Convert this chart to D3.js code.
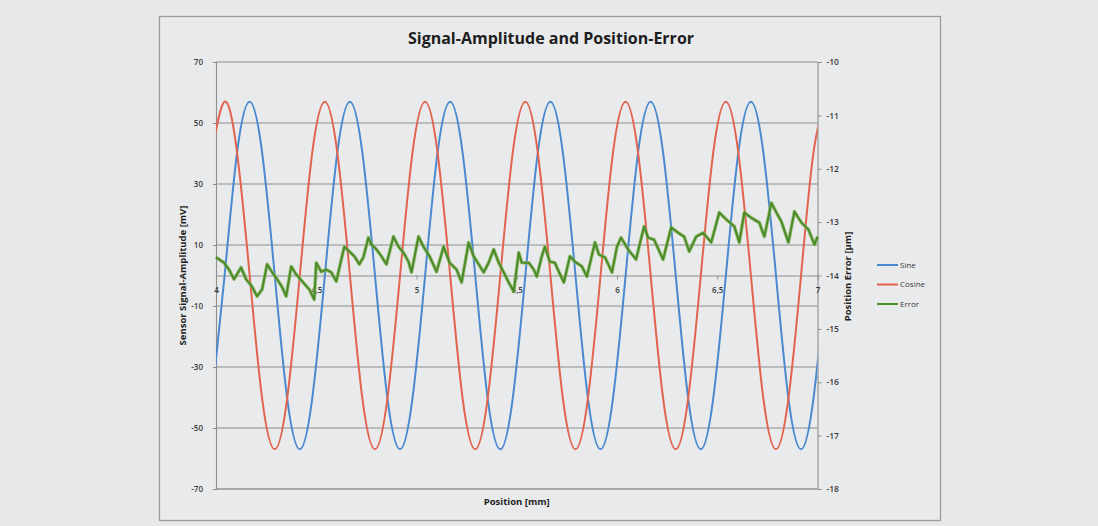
<!DOCTYPE html>
<html>
<head>
<meta charset="utf-8">
<script src="https://cdn.jsdelivr.net/npm/d3@7"></script>
<style>
  body { margin: 0; background: #e7e8ea; }
  text { font-family: "Open Sans", "Liberation Sans", sans-serif; }
</style>
</head>
<body>
<div id="chart"></div>
<script>
//Data
// sampled every 1/8 of a signal period (position in mm)
var sigPos = [3.980, 4.043, 4.105, 4.168, 4.230, 4.293, 4.355, 4.418, 4.480,
    4.543, 4.605, 4.668, 4.730, 4.793, 4.855, 4.918, 4.980,
    5.043, 5.105, 5.168, 5.230, 5.293, 5.355, 5.418, 5.480,
    5.543, 5.605, 5.668, 5.730, 5.793, 5.855, 5.918, 5.980,
    6.043, 6.105, 6.168, 6.230, 6.293, 6.355, 6.418, 6.480,
    6.543, 6.605, 6.668, 6.730, 6.793, 6.855, 6.918, 6.980, 7.043];

var sineVals = [-40.3,
    0, 40.3, 57, 40.3, 0, -40.3, -57, -40.3,
    0, 40.3, 57, 40.3, 0, -40.3, -57, -40.3,
    0, 40.3, 57, 40.3, 0, -40.3, -57, -40.3,
    0, 40.3, 57, 40.3, 0, -40.3, -57, -40.3,
    0, 40.3, 57, 40.3, 0, -40.3, -57, -40.3,
    0, 40.3, 57, 40.3, 0, -40.3, -57, -40.3,
    0];

var cosineVals = [40.3,
    57, 40.3, 0, -40.3, -57, -40.3, 0, 40.3,
    57, 40.3, 0, -40.3, -57, -40.3, 0, 40.3,
    57, 40.3, 0, -40.3, -57, -40.3, 0, 40.3,
    57, 40.3, 0, -40.3, -57, -40.3, 0, 40.3,
    57, 40.3, 0, -40.3, -57, -40.3, 0, 40.3,
    57, 40.3, 0, -40.3, -57, -40.3, 0, 40.3,
    57];

var errPos = [4.000, 4.040, 4.065, 4.090, 4.125, 4.150, 4.180, 4.205, 4.230, 4.255,
    4.280, 4.305, 4.330, 4.350, 4.375, 4.400, 4.430, 4.465, 4.490, 4.500,
    4.525, 4.550, 4.575, 4.600, 4.625, 4.640, 4.665, 4.690, 4.715, 4.735,
    4.760, 4.775, 4.800, 4.825, 4.850, 4.885, 4.910, 4.935, 4.960, 4.975,
    5.000, 5.010, 5.035, 5.065, 5.100, 5.135, 5.165, 5.200, 5.225, 5.260,
    5.285, 5.310, 5.335, 5.360, 5.385, 5.410, 5.435, 5.460, 5.485, 5.510,
    5.525, 5.560, 5.585, 5.600, 5.625, 5.640, 5.665, 5.690, 5.710, 5.735,
    5.765, 5.790, 5.825, 5.850, 5.890, 5.910, 5.940, 5.975, 6.000, 6.020,
    6.055, 6.095, 6.135, 6.155, 6.185, 6.230, 6.270, 6.305, 6.335, 6.360,
    6.395, 6.430, 6.470, 6.510, 6.545, 6.585, 6.610, 6.635, 6.670, 6.710,
    6.735, 6.770, 6.795, 6.820, 6.855, 6.885, 6.920, 6.955, 6.985, 7.000];

var errVals = [-13.66, -13.76, -13.89, -14.07, -13.85, -14.07, -14.21, -14.39, -14.26, -13.79,
    -13.94, -14.07, -14.22, -14.39, -13.83, -13.98, -14.11, -14.26, -14.45, -13.76,
    -13.93, -13.89, -13.94, -14.11, -13.70, -13.46, -13.55, -13.64, -13.79, -13.66,
    -13.29, -13.42, -13.51, -13.64, -13.79, -13.27, -13.46, -13.57, -13.74, -13.94,
    -13.46, -13.27, -13.46, -13.64, -13.93, -13.46, -13.76, -13.89, -14.13, -13.38,
    -13.64, -13.79, -13.94, -13.76, -13.51, -13.76, -13.94, -14.13, -14.30, -13.57,
    -13.76, -13.76, -13.89, -14.02, -13.64, -13.46, -13.74, -13.76, -13.93, -14.13,
    -13.64, -13.74, -13.83, -14.02, -13.38, -13.61, -13.66, -13.94, -13.46, -13.29,
    -13.51, -13.70, -13.08, -13.29, -13.33, -13.70, -13.10, -13.20, -13.27, -13.55,
    -13.27, -13.20, -13.38, -12.82, -12.95, -13.08, -13.38, -12.82, -12.92, -13.01,
    -13.27, -12.64, -12.82, -12.99, -13.38, -12.80, -13.01, -13.14, -13.42, -13.27];

var xTicks = [4, 4.5, 5, 5.5, 6, 6.5, 7];
var leftTicks = [70, 50, 30, 10, -10, -30, -50, -70];
var rightTicks = [-10, -11, -12, -13, -14, -15, -16, -17, -18];
var seriesNames = ["Sine", "Cosine", "Error"];
var seriesColors = ["#4a89cf", "#e2634f", "#4b8a28"];

//Set up chart
var svgWidth = 1098;
var svgHeight = 526;

var margin = {
    top: 62,
    right: 280.5,
    bottom: 37,
    left: 216
};

var width = svgWidth - margin.left - margin.right;
var height = svgHeight - margin.top - margin.bottom;

var svg = d3.select("#chart").append("svg")
    .attr("width", svgWidth)
    .attr("height", svgHeight);

//chart frame
svg.append("rect")
    .attr("x", 159.5)
    .attr("y", 16.5)
    .attr("width", 781)
    .attr("height", 504)
    .attr("fill", "#e9eaec")
    .attr("stroke", "#9c9c9c")
    .attr("stroke-width", 1.3);

var chartGroup = svg.append("g")
    .attr("transform", `translate(${margin.left}, ${margin.top})`);

//scales
var xScale = d3.scaleLinear().domain([4, 7]).range([0, width]);
var yLeft = d3.scaleLinear().domain([-70, 70]).range([height, 0]);
var yRight = d3.scaleLinear().domain([-18, -10]).range([height, 0]);

//gridlines
chartGroup.selectAll(".grid")
    .data(leftTicks)
    .enter()
    .append("line")
    .attr("x1", 0)
    .attr("x2", width)
    .attr("y1", d => yLeft(d))
    .attr("y2", d => yLeft(d))
    .attr("stroke", d => d === -70 ? "#a9a9a9" : "#8e8e8e")
    .attr("stroke-width", d => d === -70 ? 2.2 : 1.1);

//axes
var leftAxis = chartGroup.append("g")
    .call(d3.axisLeft(yLeft).tickValues(leftTicks).tickSize(3).tickPadding(10)
        .tickFormat(d => String(d)));

var rightAxis = chartGroup.append("g")
    .attr("transform", `translate(${width}, 0)`)
    .call(d3.axisRight(yRight).tickValues(rightTicks).tickSize(4).tickPadding(5)
        .tickFormat(d => String(d)));

var xAxis = chartGroup.append("g")
    .attr("transform", `translate(0, ${yLeft(0)})`)
    .call(d3.axisBottom(xScale).tickValues(xTicks).tickSizeInner(4).tickSizeOuter(0).tickPadding(8)
        .tickFormat(d => String(d).replace(".", ",")));

[leftAxis, rightAxis, xAxis].forEach(function(ax) {
    ax.select(".domain").attr("stroke", "#8e8e8e").attr("stroke-width", 1.1);
    ax.selectAll(".tick line").attr("stroke", "#8e8e8e");
    ax.selectAll("text")
        .attr("fill", "#3a3a3a")
        .style("font-size", "8px")
        .style("font-weight", "600");
});
rightAxis.selectAll("text").style("font-size", "8.5px");

//clip the signal curves to the plot area
chartGroup.append("clipPath")
    .attr("id", "plotClip")
    .append("rect")
    .attr("width", width)
    .attr("height", height);

var sineData = sigPos.map((p, i) => ({pos: p, val: sineVals[i]}));
var cosineData = sigPos.map((p, i) => ({pos: p, val: cosineVals[i]}));
var errData = errPos.map((p, i) => ({pos: p, val: errVals[i]}));

var sigLine = d3.line()
    .x(d => xScale(d.pos))
    .y(d => yLeft(d.val))
    .curve(d3.curveNatural);

var errLine = d3.line()
    .x(d => xScale(d.pos))
    .y(d => yRight(d.val));

var lines = chartGroup.append("g").attr("clip-path", "url(#plotClip)");

lines.append("path")
    .datum(sineData)
    .attr("d", sigLine)
    .attr("fill", "none")
    .attr("stroke", seriesColors[0])
    .attr("stroke-width", 2);

lines.append("path")
    .datum(cosineData)
    .attr("d", sigLine)
    .attr("fill", "none")
    .attr("stroke", seriesColors[1])
    .attr("stroke-width", 2);

//error: light halo under a dark core
chartGroup.append("path")
    .datum(errData)
    .attr("d", errLine)
    .attr("fill", "none")
    .attr("stroke", "#86b55a")
    .attr("stroke-width", 3.6)
    .attr("stroke-linejoin", "round")
    .attr("opacity", 0.75);

chartGroup.append("path")
    .datum(errData)
    .attr("d", errLine)
    .attr("fill", "none")
    .attr("stroke", seriesColors[2])
    .attr("stroke-width", 2)
    .attr("stroke-linejoin", "round");

//titles
svg.append("text")
    .attr("x", 551)
    .attr("y", 44)
    .attr("text-anchor", "middle")
    .attr("fill", "#1e1e1e")
    .style("font-size", "16px")
    .style("font-weight", "bold")
    .text("Signal-Amplitude and Position-Error");

svg.append("text")
    .attr("transform", `translate(186, ${margin.top + height / 2}) rotate(-90)`)
    .attr("text-anchor", "middle")
    .attr("fill", "#1e1e1e")
    .style("font-size", "9.5px")
    .style("font-weight", "bold")
    .text("Sensor Signal-Amplitude [mV]");

svg.append("text")
    .attr("transform", `translate(851, ${margin.top + height / 2 + 1}) rotate(-90)`)
    .attr("text-anchor", "middle")
    .attr("fill", "#1e1e1e")
    .style("font-size", "9.5px")
    .style("font-weight", "bold")
    .text("Position Error [µm]");

svg.append("text")
    .attr("x", margin.left + width / 2)
    .attr("y", 505)
    .attr("text-anchor", "middle")
    .attr("fill", "#1e1e1e")
    .style("font-size", "9.5px")
    .style("font-weight", "bold")
    .text("Position [mm]");

//legend
var legend = svg.append("g").attr("transform", "translate(877, 265)");

seriesNames.forEach(function(name, i) {
    var row = legend.append("g").attr("transform", `translate(0, ${i * 19.5})`);
    row.append("line")
        .attr("x1", 0)
        .attr("x2", 21)
        .attr("stroke", seriesColors[i])
        .attr("stroke-width", 2);
    row.append("text")
        .attr("x", 23)
        .attr("dy", "0.35em")
        .attr("fill", "#3a3a3a")
        .style("font-size", "8px")
        .text(name);
});
</script>
</body>
</html>
